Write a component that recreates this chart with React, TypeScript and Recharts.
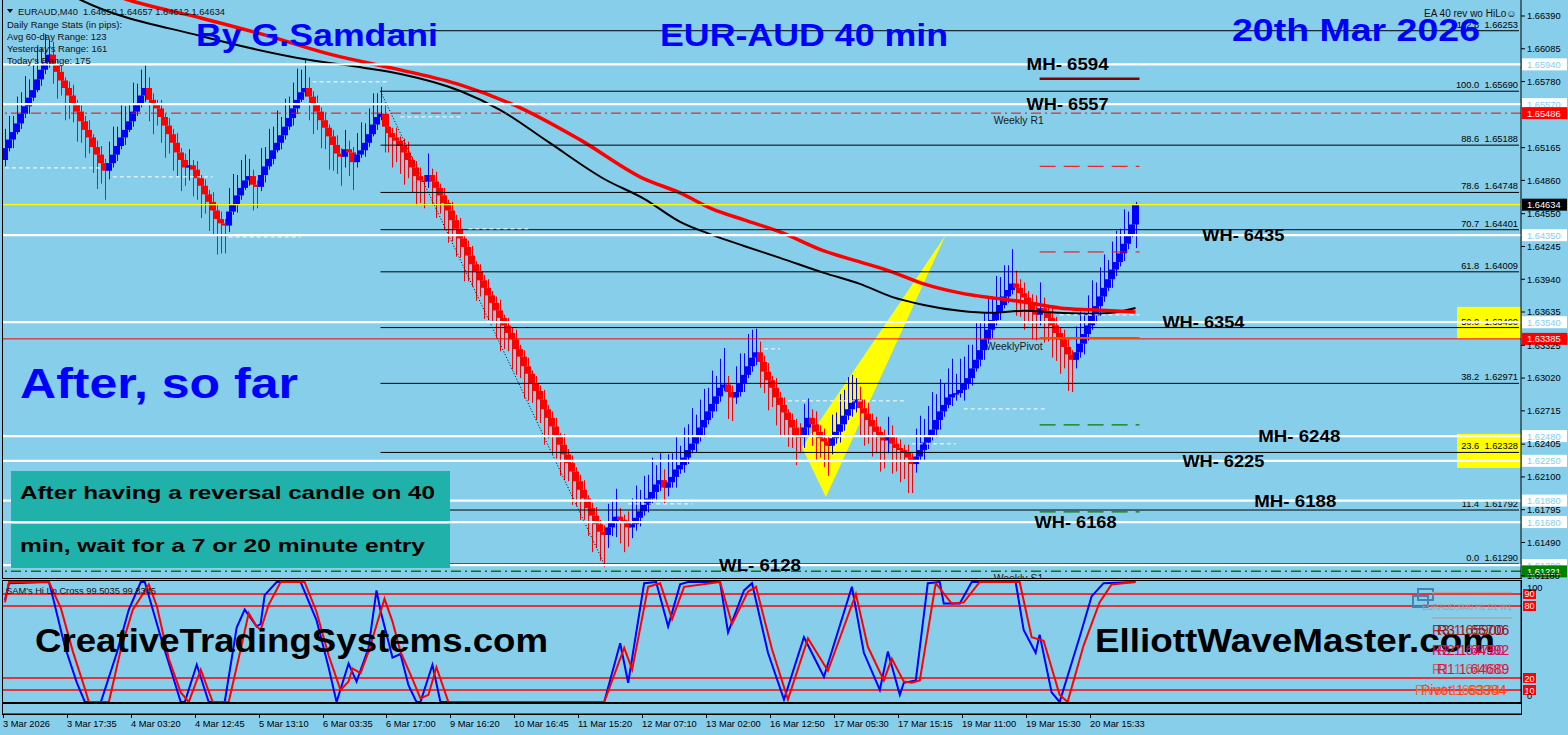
import React from 'react';
import {
  ComposedChart, Bar, Line, XAxis, YAxis,
  ReferenceLine, ReferenceArea, ReferenceDot,
} from 'recharts';

const FONT = "'Liberation Sans', Arial, Helvetica, sans-serif";
const BG = '#87CEEB';
const SLOTS = 380;
const PIP = 0.0001;

// ---------- candles (body opens at previous close) ----------
const firstOpen = 1.6505;
const closes = [
  1.6516,1.6524,1.6531,1.6539,1.6548,1.6555,1.6563,1.6570,1.6580,1.6589,
  1.6596,1.6603,1.6594,1.6587,1.6579,1.6572,1.6565,1.6557,1.6550,1.6541,
  1.6533,1.6526,1.6517,1.6510,1.6502,1.6495,1.6502,1.6510,1.6518,1.6526,
  1.6533,1.6541,1.6550,1.6557,1.6565,1.6572,1.6561,1.6557,1.6553,1.6545,
  1.6537,1.6529,1.6521,1.6512,1.6505,1.6498,1.6500,1.6496,1.6488,1.6481,
  1.6473,1.6466,1.6458,1.6450,1.6446,1.6444,1.6457,1.6464,1.6472,1.6479,
  1.6486,1.6490,1.6482,1.6480,1.6491,1.6499,1.6506,1.6514,1.6521,1.6528,
  1.6536,1.6544,1.6553,1.6561,1.6568,1.6572,1.6564,1.6557,1.6550,1.6542,
  1.6535,1.6527,1.6519,1.6511,1.6508,1.6515,1.6512,1.6503,1.6510,1.6514,
  1.6521,1.6529,1.6538,1.6545,1.6548,1.6536,1.6530,1.6526,1.6523,1.6518,
  1.6512,1.6505,1.6498,1.6490,1.6486,1.6485,1.6491,1.6485,1.6479,1.6472,
  1.6465,1.6458,1.6449,1.6441,1.6432,1.6424,1.6416,1.6408,1.6401,1.6393,
  1.6386,1.6379,1.6372,1.6365,1.6358,1.6351,1.6344,1.6338,1.6329,1.6322,
  1.6313,1.6306,1.6297,1.6290,1.6282,1.6273,1.6265,1.6257,1.6248,1.6240,
  1.6231,1.6223,1.6215,1.6206,1.6198,1.6190,1.6181,1.6174,1.6166,1.6159,
  1.6156,1.6163,1.6169,1.6173,1.6170,1.6168,1.6163,1.6166,1.6172,1.6178,
  1.6184,1.6190,1.6196,1.6203,1.6207,1.6200,1.6205,1.6210,1.6217,1.6221,
  1.6228,1.6235,1.6241,1.6248,1.6256,1.6263,1.6271,1.6278,1.6285,1.6293,
  1.6296,1.6289,1.6284,1.6289,1.6297,1.6305,1.6313,1.6321,1.6326,1.6317,
  1.6308,1.6300,1.6293,1.6284,1.6277,1.6270,1.6263,1.6256,1.6248,1.6247,
  1.6256,1.6265,1.6259,1.6252,1.6246,1.6243,1.6239,1.6246,1.6252,1.6259,
  1.6267,1.6273,1.6279,1.6282,1.6274,1.6269,1.6263,1.6257,1.6252,1.6247,
  1.6244,1.6248,1.6241,1.6237,1.6235,1.6233,1.6228,1.6222,1.6229,1.6235,
  1.6242,1.6248,1.6254,1.6263,1.6271,1.6277,1.6284,1.6287,1.6288,1.6291,
  1.6297,1.6302,1.6311,1.6319,1.6328,1.6338,1.6347,1.6356,1.6363,1.6370,
  1.6378,1.6384,1.6390,1.6386,1.6381,1.6377,1.6371,1.6365,1.6361,1.6367,
  1.6363,1.6358,1.6351,1.6344,1.6338,1.6331,1.6324,1.6319,1.6326,1.6334,
  1.6343,1.6351,1.6360,1.6369,1.6378,1.6386,1.6394,1.6403,1.6410,1.6418,
  1.6427,1.6436,1.6445,1.6463,
];
const wickUpPips = [
  18,22,15,25,20,28,17,24,30,20,26,14,
  12,5,8,3,6,10,4,7,5,9,3,6,8,4,
  20,26,18,30,22,15,27,19,24,21,
  10,6,4,8,3,7,5,9,4,6,
  15,
  5,8,3,6,4,9,5,7,4,
  22,28,19,26,24,16,
  6,4,
  25,18,28,22,30,17,26,20,24,29,21,27,
  10,5,8,4,7,3,6,9,5,
  18,
  8,5,
  20,26,18,24,29,22,25,
  8,12,5,9,4,7,10,3,6,8,5,
  20,
  6,9,4,7,3,8,5,10,4,6, 9,3,7,5,8,4,6,10,3,7, 5,9,4,6,8,3,7,5,9,4, 6,8,3,10,5,7,4,6,9,3, 5,8,4,6,
  22,18,26,
  8,5,10,
  24,30,20,27,22,32,18,25,
  10,
  26,22,30,18,28,24,33,20,26,29,22,31,19,27,34,
  8,6,
  24,28,20,30,26,22,
  10,6,8,4,9,5,7,3,6,8,12,
  22,18,
  8,12,6,9,5,
  22,18,28,24,30,26,20,
  12,8,10,6,9,5,7,
  18,
  10,6,8,5,7,4,
  26,32,22,28,35,24,30,20,27,33, 18,29,25,31,22,36,27,24,30,20, 34,26,29,23,32,
  12,8,10,6,9,14,
  24,
  10,6,12,8,5,9,7,4,
  24,30,20,28,33,22,27,31,18,26,29,23,32,21,19,3,
];
const wickDnPips = [
  6,3,8,2,5,4,7,3,2,6,4,5,
  18,25,14,30,22,17,28,20,26,15,24,32,19,27,
  8,4,6,3,7,2,5,4,3,6,
  20,28,16,24,30,18,26,22,29,17,
  12,
  25,20,30,18,27,22,33,28,26,
  6,3,8,4,2,5,
  24,20,
  4,7,3,5,2,6,4,3,7,5,2,4,
  22,28,17,26,20,31,24,19,27,
  10,
  22,26,
  5,3,6,4,2,5,3,
  24,18,28,20,26,30,17,23,27,21,25,
  6,
  22,28,17,25,30,20,26,18,32,24, 21,27,15,29,23,19,26,31,22,17, 28,24,20,30,25,18,27,22,33,19, 26,21,29,24,17,31,23,28,20,26, 34,22,27,30,
  12,8,15,
  22,28,18,
  10,6,8,4,7,5,9,6,
  15,
  8,5,10,4,7,6,3,8,5,9,4,6,7,5,3,
  25,22,
  6,4,8,3,5,7,
  24,20,28,18,26,30,22,25,19,27,15,
  10,8,
  20,26,18,24,28,
  8,5,10,6,4,7,9,
  25,30,22,28,20,32,26,
  12,
  28,22,30,25,33,27,
  8,5,10,6,4,7,9,5,3,8, 6,4,10,5,7,3,6,9,4,8, 5,7,3,6,4,
  26,22,30,18,27,24,
  10,
  28,22,30,26,32,20,34,30,
  8,5,10,6,4,7,9,5,3,8,6,4,7,5,3,22,
];

// ---------- moving averages (key points) ----------
const maRedIdx = [25,31,49,65,82,99,114,129,144,160,169,177,185,194,205,214,222,230,239,247,255,264,272,283];
const maRedVal = [1.66614,1.66539,1.66372,1.66214,1.66028,1.65889,1.65749,1.65535,1.65237,1.64874,1.64744,1.64595,1.64492,1.64381,1.64204,1.64102,1.64009,1.63897,1.63813,1.63767,1.63729,1.63673,1.63655,1.63636];
const maBlackIdx = [17,19,49,76,90,99,114,124,136,150,160,169,177,185,194,205,214,222,230,239,247,255,264,272,277,283];
const maBlackVal = [1.66576,1.66539,1.66204,1.65982,1.65907,1.65851,1.65692,1.65515,1.65218,1.64873,1.64688,1.64474,1.64353,1.64250,1.64139,1.63999,1.63897,1.63776,1.63701,1.63646,1.63627,1.63646,1.63627,1.63618,1.63627,1.63673];

// ---------- oscillator (key points) ----------
const oscBlueIdx = [0,1,11,12,15,18,20,24,28,31,34,35,39,44,45,48,51,55,58,60,63,64,65,68,74,78,81,83,86,88,91,93,94,97,99,101,103,104,107,109,150,154,156,160,163,166,169,171,179,181,185,187,191,195,200,205,212,215,219,221,224,225,228,231,234,235,239,242,253,255,258,259,262,264,269,272,275,283];
const oscBlueVal = [85,99,100,87,46,16,0,0,41,77,100,100,54,0,0,31,0,0,62,77,63,65,89,100,100,68,29,0,32,17,45,93,76,37,40,14,0,0,31,0,0,49,16,99,100,63,98,100,100,58,93,99,41,2,54,21,96,41,10,42,6,16,18,99,100,82,82,100,100,60,41,56,8,0,54,88,99,100];
const oscRedIdx = [0,1,11,14,17,20,21,26,29,32,36,38,41,44,46,49,52,56,59,61,63,64,66,69,75,78,81,84,86,87,89,91,95,97,99,102,104,106,108,111,150,155,157,161,164,167,170,179,182,186,188,192,196,201,206,213,216,220,222,225,227,229,233,237,240,244,254,257,260,264,266,270,274,277,283];
const oscRedVal = [83,100,100,78,42,11,0,0,44,77,98,80,36,8,0,27,0,0,44,74,63,60,81,100,100,75,39,10,17,28,24,42,86,67,42,19,3,6,29,0,0,45,27,96,99,69,96,100,65,92,96,44,2,53,26,90,46,18,36,17,16,18,99,82,83,100,100,54,51,6,0,47,83,98,100];
const oscLevels = [90, 80, 20, 10];

// ---------- axes ----------
const timeTickIdx = [0,16,32,48,64,80,96,112,128,144,160,176,192,208,224,240,256,272];
const timeLabels = ['3 Mar 2026','3 Mar 17:35','4 Mar 03:20','4 Mar 12:45','5 Mar 13:10','6 Mar 03:35','6 Mar 17:00','9 Mar 16:20','10 Mar 16:45','11 Mar 15:20','12 Mar 07:10','13 Mar 02:00','16 Mar 12:50','17 Mar 05:30','17 Mar 15:15','19 Mar 11:00','19 Mar 15:30','20 Mar 15:33'];
const priceTicks = [1.6639,1.66085,1.6578,1.65165,1.6486,1.6455,1.64245,1.6394,1.63635,1.63325,1.6302,1.62715,1.62405,1.621,1.61795,1.6149,1.6118];
const PRICE_MIN = 1.6115;
const PRICE_MAX = 1.66539;

// ---------- levels ----------
const whiteLevels = [1.6594,1.6557,1.6435,1.6354,1.6248,1.6225,1.6188,1.6168,1.6128];
const fibPcts = ['112.8','100.0','88.6','78.6','70.7','61.8','50.0','38.2','23.6','11.4','0.0'];
const fibPrices = [1.66253,1.6569,1.65188,1.64748,1.64401,1.64009,1.6349,1.62971,1.62328,1.61792,1.6129];
const fibStartIdx = 94;
const fibEndIdx = 379;
const fibBottomIdx = 150;
const weeklyR1 = 1.65486;
const weeklyPivot = 1.63385;
const weeklyS1 = 1.61221;
const currentPrice = 1.64634;
const levelLabels = ['MH- 6594','WH- 6557','WH- 6435','WH- 6354','MH- 6248','WH- 6225','MH- 6188','WH- 6168','WL- 6128'];
const levelLabelPrices = [1.6594,1.6557,1.6435,1.6354,1.6248,1.6225,1.6188,1.6168,1.6128];
const levelLabelIdx = [266,266,310,300,324,305,323,268,189];
const shortSegStart = 259;
const shortSegEnd = 284;
const maroonLevel = 1.65805;
const redDashLevels = [1.64991, 1.64194];
const greenDashLevels = [1.62584, 1.61774];
const orangeLevel = 1.63394;
const whiteDashStart = [0,27,56,77,99,116,156,190,196,227,240,264];
const whiteDashEnd = [24,52,74,96,114,131,172,194,225,238,261,284];
const whiteDashPrice = [1.64976,1.64893,1.64334,1.65777,1.65451,1.64409,1.61849,1.63292,1.62808,1.62408,1.62733,1.63608];
const yellowBoxIdx = [364, 378];
const yellowBoxLow = [1.63385, 1.62184];
const yellowBoxHigh = [1.63683, 1.62501];
const triIdx = [236, 200, 206];
const triPrice = [1.64353, 1.62377, 1.61914];

// ---------- build rows ----------
const mainData: any[] = Array.from({ length: SLOTS }, (_, i) => ({ i }));
closes.forEach((c, i) => {
  const o = i === 0 ? firstOpen : closes[i - 1];
  const hi = Math.max(o, c) + (wickUpPips[i] ?? 0) * PIP;
  const lo = Math.min(o, c) - (wickDnPips[i] ?? 0) * PIP;
  Object.assign(mainData[i], { open: o, close: c, high: hi, low: lo, range: [lo, hi] });
});
maRedIdx.forEach((idx, k) => { mainData[idx].maRed = maRedVal[k]; });
maBlackIdx.forEach((idx, k) => { mainData[idx].maBlack = maBlackVal[k]; });

const oscData: any[] = Array.from({ length: SLOTS }, (_, i) => ({ i }));
oscBlueIdx.forEach((idx, k) => { oscData[idx].blue = oscBlueVal[k]; });
oscRedIdx.forEach((idx, k) => { oscData[idx].red = oscRedVal[k]; });

const timeData: any[] = Array.from({ length: SLOTS }, (_, i) => ({ i }));

// ---------- shapes & labels ----------
const Candle = (props: any) => {
  const { x, y, width, height, payload } = props;
  if (!payload || payload.high == null || !isFinite(y) || !isFinite(height)) return null;
  const top = Math.min(y, y + height);
  const h = Math.abs(height);
  const { open, close, high, low } = payload;
  const span = high - low || 1e-9;
  const py = (v: number) => top + ((high - v) / span) * h;
  const left = Math.round(x + width / 2 - 3);
  const color = close >= open ? '#0000FF' : '#FF0000';
  const bTop = py(Math.max(open, close));
  const bBot = py(Math.min(open, close));
  return (
    <g>
      <rect x={left + 3} y={top} width={1} height={h} fill={color} />
      <rect x={left} y={bTop} width={6} height={Math.max(1.5, bBot - bTop)} fill={color} />
    </g>
  );
};

const Triangle = (props: any) => {
  const { x, y, width, height } = props;
  const px = (i: number) => x + ((i - triIdx[1]) / (triIdx[0] - triIdx[1])) * width;
  const pTop = triPrice[0];
  const pBot = triPrice[2];
  const py = (p: number) => y + ((pTop - p) / (pTop - pBot)) * height;
  const pts = triIdx.map((ti, k) => `${px(ti)},${py(triPrice[k])}`).join(' ');
  return <polygon points={pts} fill="#FFFF00" stroke="none" />;
};

const YellowBox = (props: any) => {
  const { x, y, width, height } = props;
  return <rect x={x} y={y} width={Math.max(0, 1521 - x)} height={height} fill="#FFFF00" data-w={width} />;
};

const axisBoxLabel = (price: number, bg: string, fg: string) => (p: any) => {
  const vb = p.viewBox;
  if (!vb) return null;
  const x = vb.x + vb.width + 1;
  const y = vb.y;
  return (
    <g>
      <rect x={x} y={y - 6} width={45} height={12} fill={bg} />
      <text x={x + 5} y={y + 3.5} fontSize={9.3} fontFamily={FONT} fill={fg}>{price.toFixed(5)}</text>
    </g>
  );
};

const fibLabel = (pct: string, price: number) => (p: any) => {
  const vb = p.viewBox;
  if (!vb) return null;
  return (
    <text x={vb.x + vb.width - 1} y={vb.y - 3} textAnchor="end" fontSize={9.3} fontFamily={FONT} fill="#000" style={{ whiteSpace: 'pre' }}>
      {`${pct}  ${price.toFixed(5)}`}
    </text>
  );
};

const bigLabel = (text: string) => (p: any) => {
  const vb = p.viewBox;
  if (!vb) return null;
  const cx = vb.x + vb.width / 2;
  const cy = vb.y + vb.height / 2;
  return (
    <text x={cx} y={cy + 6} textAnchor="middle" fontSize={17} fontWeight="bold" fontFamily={FONT} fill="#000" textLength={82} lengthAdjust="spacingAndGlyphs">
      {text}
    </text>
  );
};

const smallLabel = (text: string) => (p: any) => {
  const vb = p.viewBox;
  if (!vb) return null;
  const cx = vb.x + vb.width / 2;
  const cy = vb.y + vb.height / 2;
  return <text x={cx - 2} y={cy + 11} fontSize={10.4} fontFamily={FONT} fill="#1a1a1a">{text}</text>;
};

const oscBox = (v: number) => (p: any) => {
  const vb = p.viewBox;
  if (!vb) return null;
  const x = vb.x + vb.width + 2;
  return (
    <g>
      <rect x={x} y={vb.y - 5} width={13} height={10} fill="#FF0000" />
      <text x={x + 6.5} y={vb.y + 3.5} textAnchor="middle" fontSize={9} fontFamily={FONT} fill="#fff">{v}</text>
    </g>
  );
};

const OscTick = (p: any) => {
  const { x, y, payload } = p;
  const v = payload.value;
  return <text x={x + 6} y={v === 100 ? y + 9 : y - 3} fontSize={9.3} fontFamily={FONT} fill="#000">{v}</text>;
};

const TimeTick = (p: any) => {
  const { x, y, payload } = p;
  const k = timeTickIdx.indexOf(payload.value);
  const bx = Math.round(x - 2);
  return (
    <g>
      <line x1={bx + 0.5} x2={bx + 0.5} y1={y} y2={y + 4} stroke="#000" />
      <text x={bx} y={y + 13} fontSize={9.3} fontFamily={FONT} fill="#000">{k >= 0 ? timeLabels[k] : ''}</text>
    </g>
  );
};

const axisBoxes: [number, string, string][] = [
  [1.6594, '#FFFFFF', '#87CEEB'], [1.6557, '#FFFFFF', '#87CEEB'], [weeklyR1, '#FF0000', '#FFFFFF'],
  [currentPrice, '#000000', '#FFFFFF'], [1.6435, '#FFFFFF', '#87CEEB'], [1.6354, '#FFFFFF', '#87CEEB'],
  [weeklyPivot, '#FF0000', '#FFFFFF'], [1.6248, '#FFFFFF', '#87CEEB'], [1.6225, '#FFFFFF', '#87CEEB'],
  [1.6188, '#FFFFFF', '#87CEEB'], [1.6168, '#FFFFFF', '#87CEEB'], [1.6128, '#FFFFFF', '#87CEEB'],
  [weeklyS1, '#008000', '#FFFFFF'],
];

export default function App() {
  return (
    <div style={{ position: 'absolute', left: 0, top: 0, width: 1568, height: 735, background: BG, overflow: 'hidden', fontFamily: FONT }}>
      {/* main price panel */}
      <div style={{ position: 'absolute', left: 0, top: 0 }}>
        <ComposedChart width={1568} height={579} data={mainData} margin={{ top: 0, right: 0, bottom: 0, left: 3 }} barCategoryGap={0} barGap={0}>
          <XAxis dataKey="i" type="category" scale="band" hide />
          <YAxis
            orientation="right" width={47} type="number" domain={[PRICE_MIN, PRICE_MAX]} allowDataOverflow
            ticks={priceTicks} interval={0} tickFormatter={(v: number) => v.toFixed(5)}
            tick={{ fontSize: 9.3, fill: '#000', fontFamily: FONT }} tickSize={4} tickMargin={2}
            axisLine={{ stroke: '#000' }} tickLine={{ stroke: '#000' }}
          />
          {yellowBoxLow.map((lo, k) => (
            <ReferenceArea key={`yb${k}`} x1={yellowBoxIdx[0]} x2={yellowBoxIdx[1]} y1={lo} y2={yellowBoxHigh[k]} ifOverflow="visible" shape={YellowBox} fill="#FFFF00" fillOpacity={1} stroke="none" />
          ))}
          <ReferenceArea x1={triIdx[1]} x2={triIdx[0] - 1} y1={triPrice[2]} y2={triPrice[0]} shape={Triangle} fill="#FFFF00" fillOpacity={1} />
          <Bar dataKey="range" shape={Candle} isAnimationActive={false} />
          <Line dataKey="maBlack" type="monotone" stroke="#000000" strokeWidth={2} dot={false} activeDot={false} connectNulls isAnimationActive={false} />
          <Line dataKey="maRed" type="monotone" stroke="#FF0000" strokeWidth={3.5} dot={false} activeDot={false} connectNulls isAnimationActive={false} />
          {fibPrices.map((fp, k) => (
            <ReferenceLine key={`fib${k}`} segment={[{ x: fibStartIdx, y: fp }, { x: fibEndIdx, y: fp }]} stroke="#000" strokeWidth={1} label={fibLabel(fibPcts[k], fp)} />
          ))}
          <ReferenceLine segment={[{ x: fibStartIdx, y: fibPrices[1] }, { x: fibBottomIdx, y: fibPrices[10] }]} stroke="#000" strokeWidth={1} strokeDasharray="1 2" />
          {whiteLevels.map((w, k) => (
            <ReferenceLine key={`wl${k}`} y={w} stroke="#FFFFFF" strokeWidth={2.2} />
          ))}
          <ReferenceLine y={weeklyR1} stroke="#FF0000" strokeWidth={1} strokeDasharray="10 4 2 4" />
          <ReferenceLine y={weeklyPivot} stroke="#FF0000" strokeWidth={1} />
          <ReferenceLine y={weeklyS1} stroke="#008000" strokeWidth={1.5} strokeDasharray="10 4 2 4" />
          <ReferenceLine y={currentPrice} stroke="#FFFF00" strokeWidth={1.2} />
          <ReferenceLine segment={[{ x: shortSegStart, y: maroonLevel }, { x: shortSegEnd, y: maroonLevel }]} stroke="#800000" strokeWidth={2.5} />
          {redDashLevels.map((r, k) => (
            <ReferenceLine key={`rd${k}`} segment={[{ x: shortSegStart, y: r }, { x: shortSegEnd, y: r }]} stroke="#FF0000" strokeWidth={1} strokeDasharray="16 8" />
          ))}
          {greenDashLevels.map((g, k) => (
            <ReferenceLine key={`gd${k}`} segment={[{ x: shortSegStart, y: g }, { x: shortSegEnd, y: g }]} stroke="#008000" strokeWidth={1.2} strokeDasharray="16 8" />
          ))}
          <ReferenceLine segment={[{ x: shortSegStart, y: orangeLevel }, { x: shortSegEnd, y: orangeLevel }]} stroke="#FF4500" strokeWidth={2} />
          {whiteDashPrice.map((wp, k) => (
            <ReferenceLine key={`wd${k}`} segment={[{ x: whiteDashStart[k], y: wp }, { x: whiteDashEnd[k], y: wp }]} stroke="#FFFFFF" strokeWidth={1} strokeDasharray="4 3" />
          ))}
          {axisBoxes.map(([p, bg, fg], k) => (
            <ReferenceLine key={`ab${k}`} y={p} stroke="none" label={axisBoxLabel(p, bg, fg)} />
          ))}
          {levelLabels.map((t, k) => (
            <ReferenceDot key={`ll${k}`} x={levelLabelIdx[k]} y={levelLabelPrices[k]} r={1} fill="none" stroke="none" label={bigLabel(t)} />
          ))}
          <ReferenceDot x={248} y={weeklyR1} r={1} fill="none" stroke="none" label={smallLabel('Weekly R1')} />
          <ReferenceDot x={246} y={weeklyPivot} r={1} fill="none" stroke="none" label={smallLabel('WeeklyPivot')} />
          <ReferenceDot x={248} y={weeklyS1} r={1} fill="none" stroke="none" label={smallLabel('Weekly S1')} />
        </ComposedChart>
      </div>
      <div style={{ position: 'absolute', left: 2, top: 0, width: 1520, height: 579, borderLeft: '1px solid #000', borderBottom: '1px solid #000', boxSizing: 'border-box', pointerEvents: 'none' }} />

      {/* oscillator panel */}
      <div style={{ position: 'absolute', left: 0, top: 581 }}>
        <ComposedChart width={1568} height={122} data={oscData} margin={{ top: 0, right: 0, bottom: 0, left: 3 }}>
          <XAxis dataKey="i" type="category" scale="band" hide />
          <YAxis
            orientation="right" width={47} type="number" domain={[-0.83, 100.83]} allowDataOverflow
            ticks={[0, 100]} interval={0} tick={OscTick} tickSize={0} tickMargin={0} tickLine={false}
            axisLine={{ stroke: '#000' }}
          />
          {oscLevels.map((lv) => (
            <ReferenceLine key={`ol${lv}`} y={lv} stroke="#FF0000" strokeWidth={1.5} label={oscBox(lv)} />
          ))}
          <Line dataKey="blue" type="linear" stroke="#0000FF" strokeWidth={2} dot={false} activeDot={false} connectNulls isAnimationActive={false} />
          <Line dataKey="red" type="linear" stroke="#FF0000" strokeWidth={2} dot={false} activeDot={false} connectNulls isAnimationActive={false} />
        </ComposedChart>
      </div>
      <div style={{ position: 'absolute', left: 2, top: 580, width: 1520, height: 123, border: '1px solid #000', boxSizing: 'border-box', pointerEvents: 'none' }} />

      {/* empty strip + time axis */}
      <div style={{ position: 'absolute', left: 0, top: 704 }}>
        <ComposedChart width={1568} height={32} data={timeData} margin={{ top: 0, right: 47, bottom: 0, left: 3 }}>
          <XAxis
            dataKey="i" type="category" scale="band" ticks={timeTickIdx} interval={0} tick={TimeTick}
            tickLine={false} tickSize={0} tickMargin={0} axisLine={{ stroke: '#000' }} height={22}
          />
          <YAxis hide domain={[0, 1]} />
          <Line dataKey="none" stroke="none" dot={false} isAnimationActive={false} />
        </ComposedChart>
      </div>
      <div style={{ position: 'absolute', left: 2, top: 703, width: 1520, height: 12, border: '1px solid #000', boxSizing: 'border-box', pointerEvents: 'none' }} />

      {/* text overlay */}
      <svg width={1568} height={735} style={{ position: 'absolute', left: 0, top: 0, pointerEvents: 'none' }} fontFamily={FONT}>
        <polygon points="7,9 13,9 10,13" fill="#000" />
        <text x={18} y={14.5} fontSize={9.5} fill="#111" textLength={207} lengthAdjust="spacingAndGlyphs" style={{ whiteSpace: 'pre' }}>EURAUD,M40  1.64650 1.64657 1.64612 1.64634</text>
        <text x={7} y={27.5} fontSize={9.5} fill="#111">Daily Range Stats (in pips):</text>
        <text x={7} y={39.5} fontSize={9.5} fill="#111">Avg 60-day Range: 123</text>
        <text x={7} y={51.5} fontSize={9.5} fill="#111">Yesterday's Range: 161</text>
        <text x={7} y={63.5} fontSize={9.5} fill="#111">Today's Range: 175</text>
        <text x={1424} y={16.5} fontSize={10} fill="#111">EA 40 rev wo HiLo☺</text>

        <text x={196} y={46} fontSize={31} fontWeight="bold" fill="#0000FF" textLength={242} lengthAdjust="spacingAndGlyphs">By G.Samdani</text>
        <text x={660} y={46} fontSize={31} fontWeight="bold" fill="#0000FF" textLength={288} lengthAdjust="spacingAndGlyphs">EUR-AUD 40 min</text>
        <text x={1232} y={41} fontSize={31} fontWeight="bold" fill="#0000FF" textLength={248} lengthAdjust="spacingAndGlyphs">20th Mar 2026</text>
        <text x={20} y={398} fontSize={43} fontWeight="bold" fill="#0000FF" textLength={278} lengthAdjust="spacingAndGlyphs">After, so far</text>

        <rect x={11} y={471} width={439} height={50} fill="#20B2AA" />
        <rect x={11} y={524} width={439} height={44} fill="#20B2AA" />
        <text x={20} y={499} fontSize={19} fontWeight="bold" fill="#000" textLength={415} lengthAdjust="spacingAndGlyphs">After having a reversal candle on 40</text>
        <text x={20} y={552} fontSize={19} fontWeight="bold" fill="#000" textLength={405} lengthAdjust="spacingAndGlyphs">min, wait for a 7 or 20 minute entry</text>

        <text x={6} y={594} fontSize={9.3} fill="#111" textLength={150} lengthAdjust="spacingAndGlyphs">SAM's Hi.Lo.Cross 99.5035 99.8345</text>
        <text x={35} y={652} fontSize={34} fontWeight="bold" fill="#000" textLength={513} lengthAdjust="spacingAndGlyphs">CreativeTradingSystems.com</text>
        <text x={1095} y={652} fontSize={34} fontWeight="bold" fill="#000" textLength={400} lengthAdjust="spacingAndGlyphs">ElliottWaveMaster.com</text>

        <rect x={1418} y={589} width={15} height={11} fill="none" stroke="#4682B4" strokeWidth={2} />
        <rect x={1413} y={596} width={15} height={11} fill="none" stroke="#4682B4" strokeWidth={2} />
        <line x1={1432} x2={1512} y1={592.5} y2={592.5} stroke="#A9A9A9" strokeWidth={1.5} />
        <text x={1422} y={610} fontSize={9} fill="#A0A0A0" textLength={90} lengthAdjust="spacingAndGlyphs">EURAUD,M40 H1 D1 W1</text>
        <line x1={1432} x2={1512} y1={618} y2={618} stroke="#A9A9A9" strokeWidth={1.5} />
        <text x={1432} y={635} fontSize={14} fill="#B22222">R3 1.65900</text>
        <text x={1437} y={635} fontSize={14} fill="#8B1A1A">R3 1.65706</text>
        <text x={1432} y={655} fontSize={14} fill="#C71585">R2 1.64790</text>
        <text x={1437} y={655} fontSize={14} fill="#DC143C">R2 1.64992</text>
        <text x={1432} y={674} fontSize={14} fill="#CD5C5C">R1 1.64480</text>
        <text x={1437} y={674} fontSize={14} fill="#DC143C">R1 1.64689</text>
        <text x={1415} y={695} fontSize={14} fill="#FF6347">Pivot 1.63374</text>
        <text x={1421} y={695} fontSize={14} fill="#FF4500">Pivot 1.63384</text>
      </svg>
    </div>
  );
}
